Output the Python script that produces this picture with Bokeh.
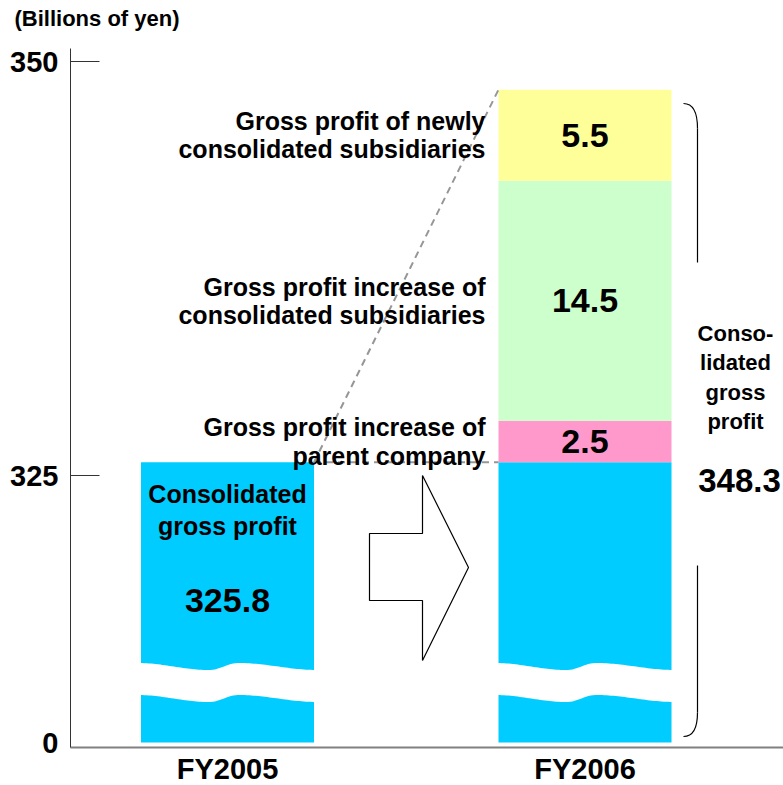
import numpy as np
from bokeh.plotting import figure
from bokeh.models import Range1d, FixedTicker, ColumnDataSource
from bokeh.core.properties import value
from bokeh.embed import file_html
from bokeh.resources import INLINE

# ---------------- data ----------------
categories = ["FY2005", "FY2006"]
fy2005_value = 325.8
fy2006_parts = ["Base (FY2005 consolidated gross profit)",
                "Gross profit increase of parent company",
                "Gross profit increase of consolidated subsidiaries",
                "Gross profit of newly consolidated subsidiaries"]
fy2006_values = [325.8, 2.5, 14.5, 5.5]
fy2006_total = 348.3
part_labels = ["",
               "Gross profit increase of\nparent company",
               "Gross profit increase of\nconsolidated subsidiaries",
               "Gross profit of newly\nconsolidated subsidiaries"]
y_ticks = [325, 350]
zero_label = "0"
unit_text = "(Billions of yen)"
bar_text = "Consolidated\ngross profit"
brace_text = "Conso-\nlidated\ngross\nprofit"

# ---------------- styles / layout ----------------
FONT = value("Liberation Sans")
BLUE, PINK, GREEN, YELLOW = "#00CCFF", "#FF99CC", "#CCFFCC", "#FFFF99"
part_colors = [BLUE, PINK, GREEN, YELLOW]

PX_X = 357.5          # pixels per category unit
PX_Y = 16.56          # pixels per billion yen


def ix(px):           # layout helper: picture x -> data x
    return (px - 227) / PX_X


def iy(py):           # layout helper: picture y -> data y
    return 350 - (py - 61) / PX_Y


BASE = iy(742)        # where the broken axis shows "0"
AXIS_Y = iy(746.5)
AXIS_X = ix(70)
W = 173 / PX_X

p = figure(width=783, height=785, output_backend="svg", toolbar_location=None,
           tools="", x_range=Range1d(ix(0), ix(783)),
           y_range=Range1d(iy(785), iy(0)),
           min_border_left=0, min_border_right=0, min_border_top=0,
           min_border_bottom=0)
p.outline_line_color = None
p.grid.visible = False
p.background_fill_color = "white"
p.border_fill_color = "white"

# ---- bars ----
cum = np.cumsum(fy2006_values)
bottoms = [BASE] + list(cum[:-1])
src = ColumnDataSource(dict(
    x=[0] + [1] * len(fy2006_values),
    bottom=[BASE] + bottoms,
    top=[fy2005_value] + list(cum),
    color=[BLUE] + part_colors,
))
p.vbar(x="x", width=W, bottom="bottom", top="top", fill_color="color",
       line_color=None, source=src)

# ---- axis-break bands (white waves across bars) ----
t = np.linspace(0, 1, 80)
phase = np.interp(t, [0, 0.40, 0.56, 1.0], [0, 0.5, 1.0, 1.5])
amp = 3.5 / PX_Y
wave = amp * np.cos(2 * np.pi * phase)
BREAK_TOP, BREAK_BOT = iy(666), iy(698)
xs, ys = [], []
for c in range(len(categories)):
    xx = c - W / 2 - 0.01 + t * (W + 0.02)
    xs.append(list(xx) + list(xx[::-1]))
    ys.append(list(BREAK_TOP + wave) + list((BREAK_BOT + wave)[::-1]))
p.patches(xs, ys, fill_color="white", line_color=None)

# ---- dashed connectors ----
p.segment(x0=[W / 2, W / 2], y0=[fy2005_value, fy2005_value],
          x1=[1 - W / 2, 1 - W / 2], y1=[cum[0], fy2006_total],
          line_color="#969696", line_width=2, line_dash="7 5")

# ---- arrow ----
p.patch([ix(369), ix(422), ix(422), ix(468), ix(422), ix(422), ix(369)],
        [iy(533), iy(533), iy(475), iy(567), iy(660), iy(600), iy(600)],
        fill_color="white", line_color="black", line_width=1.2)

# ---- brace ----
p.quadratic(x0=[ix(683), ix(697)], y0=[iy(103), iy(712)],
            x1=[ix(697), ix(683)], y1=[iy(128), iy(736)],
            cx=[ix(697), ix(697)], cy=[iy(103), iy(736)],
            line_color="black", line_width=1.2)
p.segment(x0=[ix(697), ix(697)], y0=[iy(128), iy(565)],
          x1=[ix(697), ix(697)], y1=[iy(262), iy(712)],
          line_color="black", line_width=1.2)

# ---- texts ----
mids = [(b + tp) / 2 for b, tp in zip(bottoms[1:], cum[1:])]
p.text(x=[1] * 3, y=mids, text=[f"{v}" for v in fy2006_values[1:]],
       text_font=FONT, text_font_style="bold", text_font_size="34px",
       text_align="center", text_baseline="middle", text_color="black")
p.text(x=[ix(485)] * 3, y=mids, text=part_labels[1:],
       text_font=FONT, text_font_style="bold", text_font_size="25px",
       text_line_height=1.02,
       text_align="right", text_baseline="middle", text_color="black")
p.text(x=[0], y=[fy2005_value], text=[bar_text], y_offset=48,
       text_font=FONT, text_font_style="bold", text_font_size="25px",
       text_line_height=1.16,
       text_align="center", text_baseline="middle", text_color="black")
p.text(x=[0], y=[fy2005_value], text=[f"{fy2005_value}"], y_offset=138,
       text_font=FONT, text_font_style="bold", text_font_size="34px",
       text_align="center", text_baseline="middle", text_color="black")
p.text(x=[ix(735)], y=[iy(377)], text=[brace_text],
       text_font=FONT, text_font_style="bold", text_font_size="22px",
       text_line_height=1.18,
       text_align="center", text_baseline="middle", text_color="black")
p.text(x=[ix(739)], y=[iy(480)], text=[f"{fy2006_total}"],
       text_font=FONT, text_font_style="bold", text_font_size="33px",
       text_align="center", text_baseline="middle", text_color="black")
p.text(x=[ix(14)], y=[iy(18)], text=[unit_text],
       text_font=FONT, text_font_style="bold", text_font_size="22px",
       text_align="left", text_baseline="middle", text_color="black")
p.text(x=[ix(58)], y=[BASE], text=[zero_label],
       text_font=FONT, text_font_style="bold", text_font_size="29px",
       text_align="right", text_baseline="middle", text_color="black")

# ---- axes ----
ya = p.yaxis[0]
ya.fixed_location = AXIS_X
ya.ticker = FixedTicker(ticks=y_ticks)
ya.bounds = (AXIS_Y, iy(48))
ya.major_tick_in = 29
ya.major_tick_out = 0
ya.minor_tick_line_color = None
ya.axis_line_color = "#333333"
ya.major_tick_line_color = "#333333"
ya.major_label_standoff = 12
ya.major_label_text_font = "Liberation Sans"
ya.major_label_text_font_style = "bold"
ya.major_label_text_font_size = "29px"
ya.major_label_text_color = "black"

xa = p.xaxis[0]
xa.fixed_location = AXIS_Y
xa.bounds = (AXIS_X, ix(783))
xa.ticker = FixedTicker(ticks=list(range(len(categories))))
xa.major_label_overrides = {i: c for i, c in enumerate(categories)}
xa.axis_line_color = "#808080"
xa.axis_line_width = 2
xa.major_tick_in = 0
xa.major_tick_out = 0
xa.minor_tick_line_color = None
xa.major_label_standoff = 6
xa.major_label_text_font = "Liberation Sans"
xa.major_label_text_font_style = "bold"
xa.major_label_text_font_size = "29px"
xa.major_label_text_color = "black"

open("out.html", "w").write(file_html(p, INLINE))
